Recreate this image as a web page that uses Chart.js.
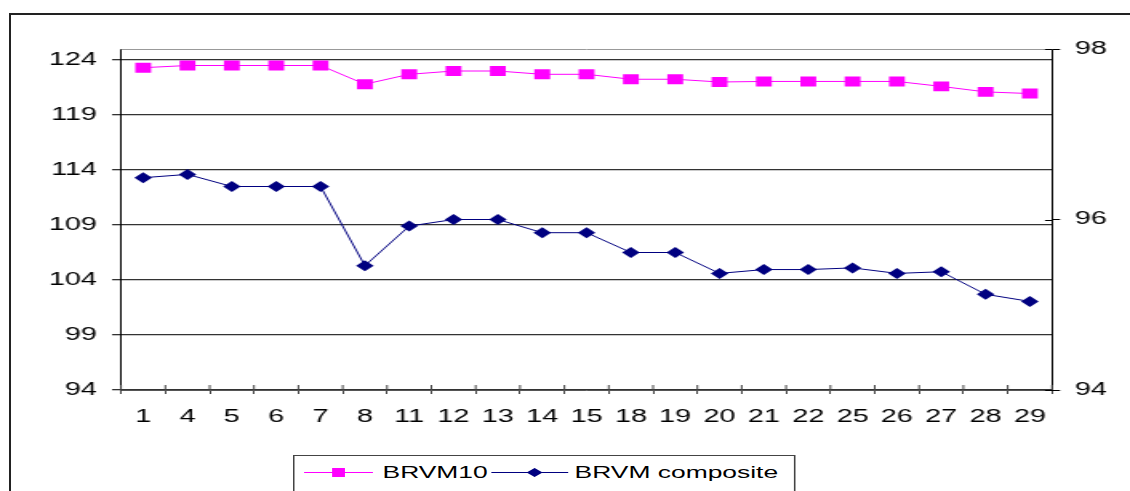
<!DOCTYPE html>
<html>
<head>
<meta charset="utf-8">
<script src="https://cdn.jsdelivr.net/npm/chart.js@4.4.1/dist/chart.umd.min.js"></script>
<style>
    html, body { margin: 0; padding: 0; background: #fff; overflow: hidden; width: 1130px; height: 491px; }
    #frame { position: absolute; left: 9px; top: 13px; width: 1300px; height: 600px; border: 2px solid #222; box-sizing: border-box; }
    /* the original picture is stretched sideways, so the whole chart is drawn narrow and scaled */
    #stage { position: absolute; left: 0; top: 0; width: 706px; height: 491px; transform: scaleX(1.6006); transform-origin: 0 0; }
    #legend { position: absolute; left: 183px; top: 455px; width: 312px; height: 42px; border: 1px solid #444; background: #fff;
              font-family: "Liberation Sans", Arial, sans-serif; font-size: 16.5px; color: #000; }
    #legend span { position: absolute; top: 6px; line-height: 20px; white-space: nowrap; }
    #legend svg { position: absolute; left: 0; top: 0; }
</style>
</head>
<body>
<div id="frame"></div>
<div id="stage">
    <canvas id="brvmChart"></canvas>
    <div id="legend">
        <svg width="312" height="40">
            <line x1="6" y1="16.5" x2="49" y2="16.5" stroke="#ff00ff" stroke-width="1"/>
            <rect x="23.5" y="12" width="8" height="9" fill="#ff00ff"/>
            <line x1="123" y1="16.5" x2="171" y2="16.5" stroke="#000080" stroke-width="1"/>
            <polygon points="145,16.5 150,12 155,16.5 150,21" fill="#000080"/>
        </svg>
        <span style="left:55px">BRVM10</span>
        <span style="left:175px">BRVM composite</span>
    </div>
</div>

<script>
// Trading days shown on the x axis
const days = ['1', '4', '5', '6', '7', '8', '11', '12', '13', '14', '15', '18', '19', '20', '21', '22', '25', '26', '27', '28', '29'];

// Index values
const brvm10 = [123.3, 123.5, 123.5, 123.5, 123.5, 121.8, 122.7, 123.0, 123.0, 122.7, 122.7, 122.25, 122.25, 122.0, 122.05, 122.05, 122.05, 122.05, 121.6, 121.1, 120.95];
const brvmComposite = [113.3, 113.6, 112.5, 112.5, 112.5, 105.3, 108.9, 109.5, 109.5, 108.3, 108.3, 106.5, 106.5, 104.6, 104.95, 104.95, 105.1, 104.6, 104.75, 102.7, 102.05];

// Axis ticks
const leftTicks = [94, 99, 104, 109, 114, 119, 124];
const rightTicks = [94, 96, 98];

const FONT = '"Liberation Sans", Arial, sans-serif';

// gray line along the top of the plot area, and the tick parts that cross into it
const plotExtras = {
    id: 'plotExtras',
    beforeDatasetsDraw(chart) {
        const { ctx, chartArea } = chart;
        const top = Math.round(chartArea.top) + 0.5;
        ctx.save();
        ctx.lineWidth = 1;
        ctx.strokeStyle = '#999';
        ctx.beginPath();
        ctx.moveTo(chartArea.left, top);
        ctx.lineTo(chartArea.right, top);
        ctx.stroke();

        // right axis ticks cross the axis line
        const y2 = chart.scales.y2;
        ctx.strokeStyle = '#000';
        ctx.beginPath();
        y2.ticks.forEach(t => {
            const py = Math.round(y2.getPixelForValue(t.value)) + 0.5;
            ctx.moveTo(chartArea.right - 4.4, py);
            ctx.lineTo(chartArea.right, py);
        });
        ctx.stroke();

        // category ticks also poke up into the plot
        const x = chart.scales.x;
        const n = x.ticks.length;
        const step = (chartArea.right - chartArea.left) / n;
        ctx.strokeStyle = '#444';
        ctx.beginPath();
        for (let i = 0; i <= n; i++) {
            const px = chartArea.left + i * step;
            ctx.moveTo(px, chartArea.bottom - 5);
            ctx.lineTo(px, chartArea.bottom);
        }
        ctx.stroke();
        ctx.restore();
    }
};

document.addEventListener('DOMContentLoaded', function() {
    const ctx = document.getElementById('brvmChart');

    new Chart(ctx, {
        type: 'line',
        data: {
            labels: days,
            datasets: [
                {
                    label: 'BRVM10',
                    data: brvm10,
                    borderColor: '#ff00ff',
                    backgroundColor: '#ff00ff',
                    borderWidth: 1,
                    pointStyle: 'rect',
                    pointRadius: 7,
                    pointBorderWidth: 0,
                    tension: 0,
                    yAxisID: 'y'
                },
                {
                    label: 'BRVM composite',
                    data: brvmComposite,
                    borderColor: '#000080',
                    backgroundColor: '#000080',
                    borderWidth: 1,
                    pointStyle: 'rectRot',
                    pointRadius: 5.5,
                    pointBorderWidth: 0,
                    tension: 0,
                    yAxisID: 'y'
                }
            ]
        },
        options: {
            responsive: true,
            maintainAspectRatio: false,
            animation: false,
            layout: { padding: { top: 49, left: 0, right: 0, bottom: 0 } },
            plugins: {
                legend: { display: false },
                tooltip: { enabled: false }
            },
            scales: {
                x: {
                    offset: true,
                    grid: { offset: true, drawOnChartArea: false, tickLength: 4, color: '#444' },
                    border: { color: '#555' },
                    ticks: { color: '#000', padding: 12, font: { family: FONT, size: 18 }, maxRotation: 0, autoSkip: false },
                    afterFit: function(scale) { scale.height = 101; }
                },
                y: {
                    position: 'left',
                    min: 94,
                    max: 125,
                    afterBuildTicks: function(scale) { scale.ticks = leftTicks.map(v => ({ value: v })); },
                    grid: { color: '#333', lineWidth: 1.3, tickLength: 5.6 },
                    border: { color: '#000' },
                    ticks: { color: '#000', padding: 9.4, font: { family: FONT, size: 18 } },
                    afterFit: function(scale) { scale.width = 75.6; }
                },
                y2: {
                    position: 'right',
                    min: 94,
                    max: 98,
                    afterBuildTicks: function(scale) { scale.ticks = rightTicks.map(v => ({ value: v })); },
                    grid: { drawOnChartArea: false, tickLength: 5, color: '#000' },
                    border: { color: '#000' },
                    ticks: { color: '#000', padding: 9.3, font: { family: FONT, size: 18 } },
                    afterFit: function(scale) { scale.width = 48.7; }
                }
            }
        },
        plugins: [plotExtras]
    });
});
</script>
</body>
</html>
